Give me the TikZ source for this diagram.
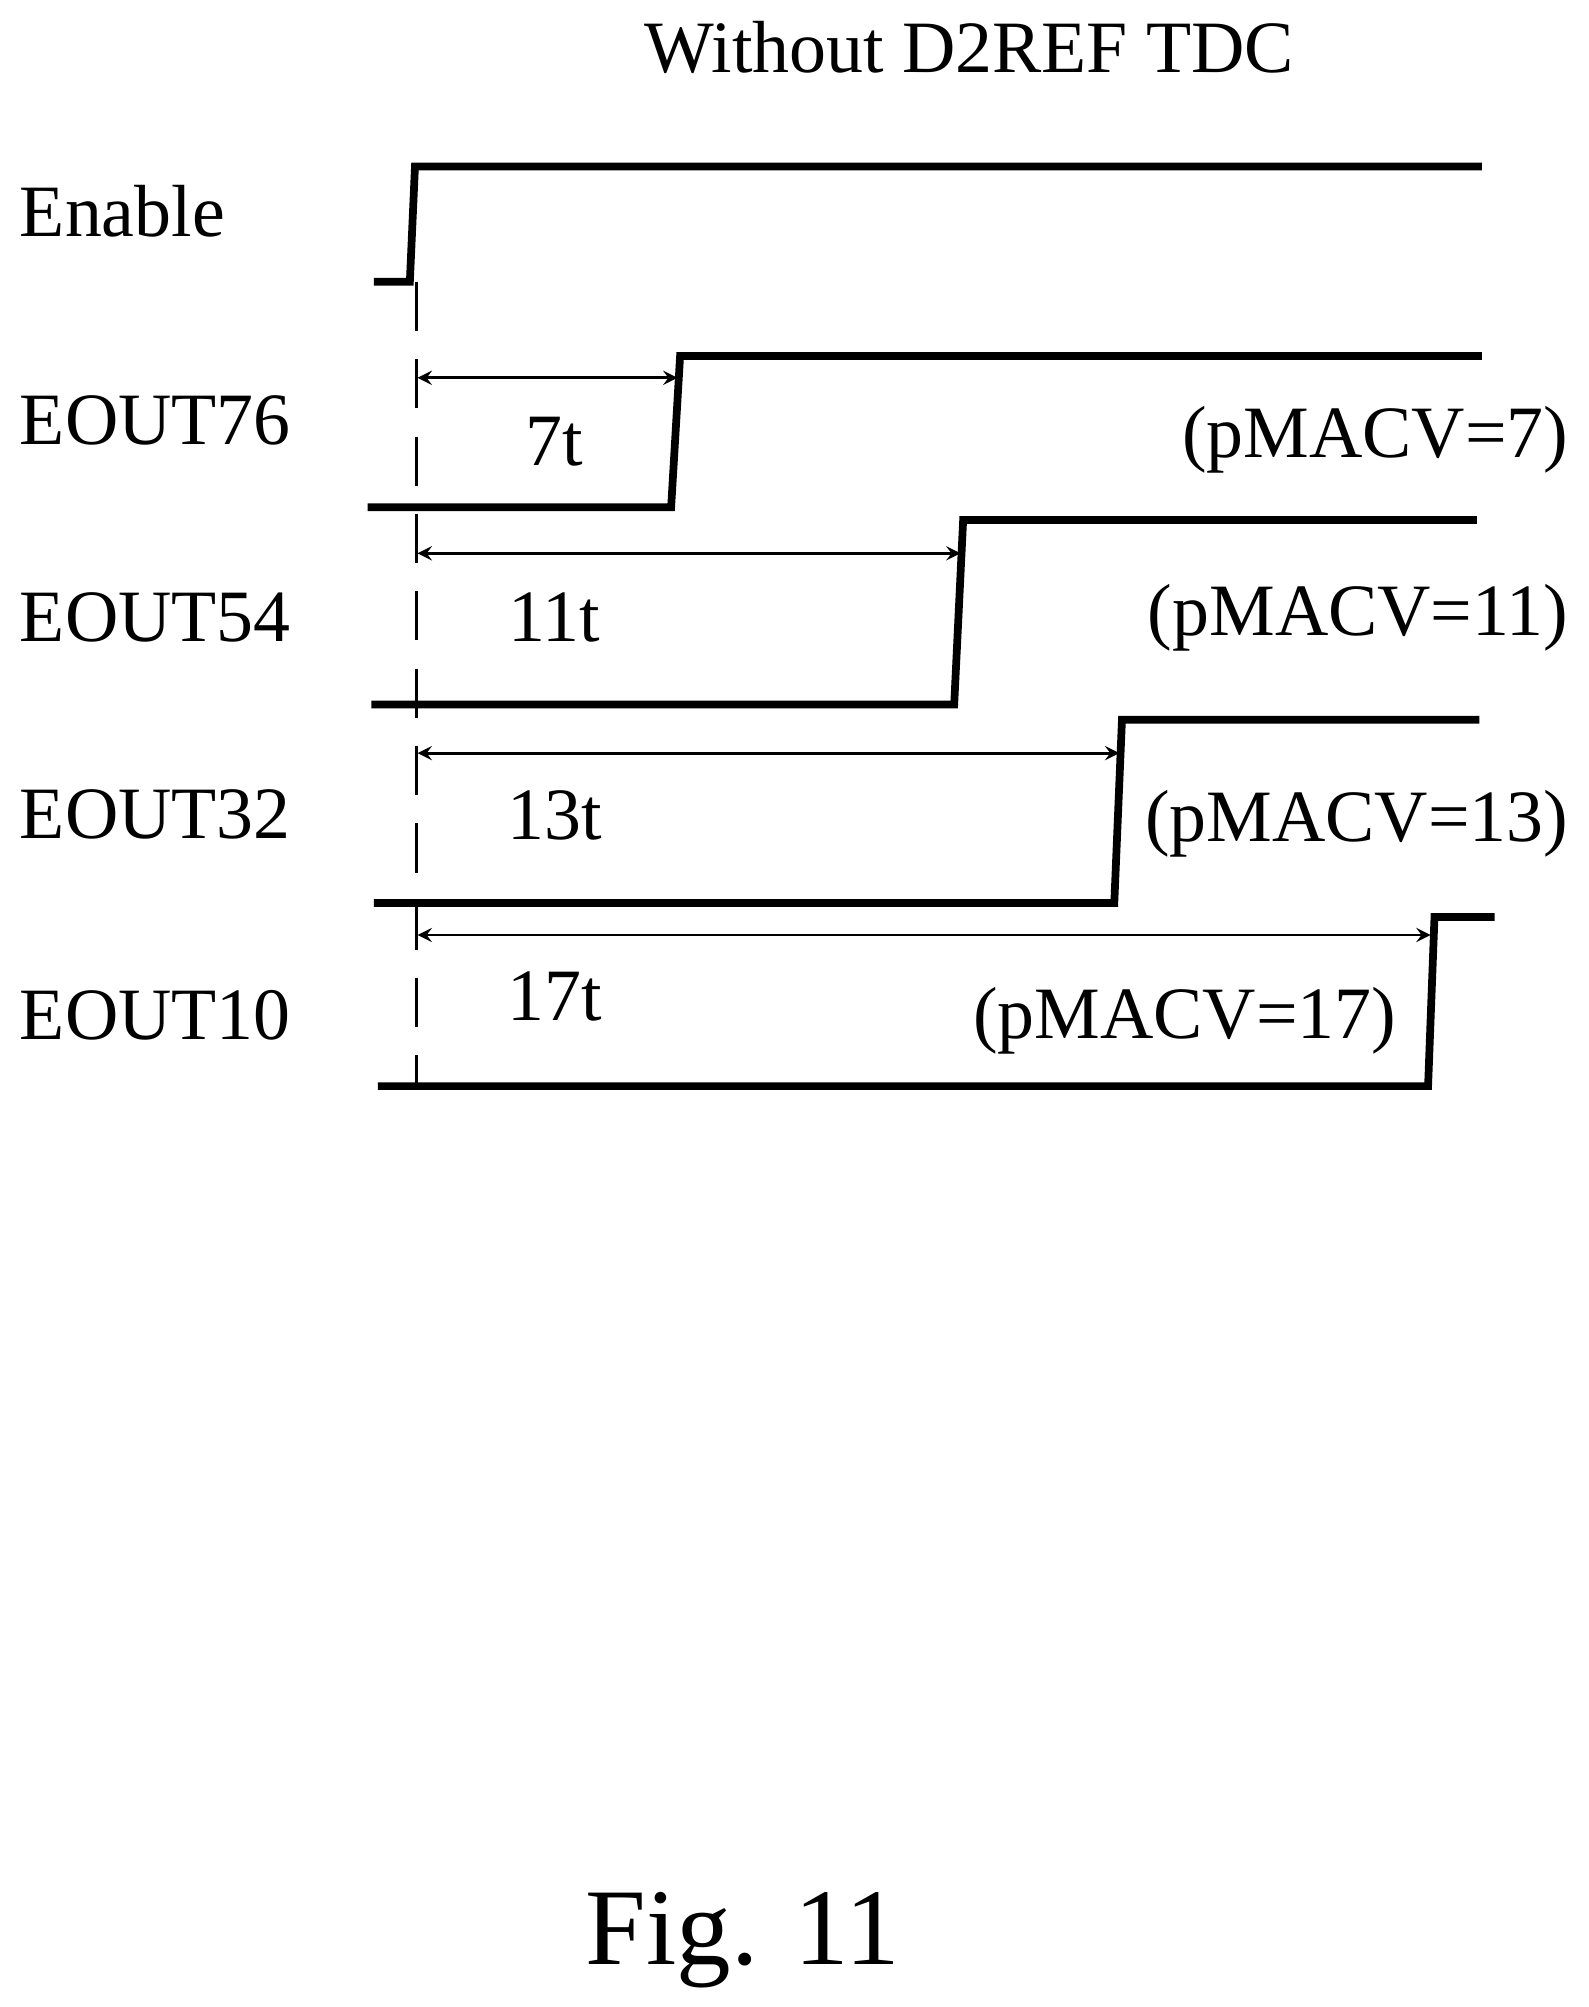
\documentclass[tikz,border=0pt]{standalone}
\usepackage{fontspec}
\setmainfont{Liberation Serif}
\usetikzlibrary{arrows}
\begin{document}
\begin{tikzpicture}[
        x=0.0128cm,y=-0.0128cm,
        lbl/.style={font=\fontsize{21}{24}\selectfont, inner sep=0pt},
        sig/.style={line width=2.2pt},
        dim/.style={thin,<->,>=stealth, line width=0.8pt},
    ]
    \useasboundingbox (0,0) rectangle (1240,1567);
    \node[lbl] (title) at (757,37) {Without D2REF TDC};
    \node[lbl,anchor=west] (en) at (15,165) {Enable};
    \node[lbl,anchor=west] (e76) at (15,328) {EOUT76};
    \node[lbl,anchor=west] (e54) at (15,482) {EOUT54};
    \node[lbl,anchor=west] (e32) at (15,636) {EOUT32};
    \node[lbl,anchor=west] (e10) at (15,793) {EOUT10};
    % signals
    \draw[sig] (292,220) -- (320,220) -- (324,130) -- (1157,130);
    \draw[sig] (287,396) -- (524,396) -- (531,278) -- (1157,278);
    \draw[sig] (290,550) -- (745,550) -- (752,406) -- (1153,406);
    \draw[sig] (292,705) -- (870,705) -- (876,562) -- (1155,562);
    \draw[sig] (295,848) -- (1115,848) -- (1120,716) -- (1167,716);
    \draw[dashed, line width=1pt, dash pattern=on 14pt off 8pt] (325,220) -- (325,848);
    % intervals
    \draw[dim] (326,295) -- (529,295);
    \draw[dim] (326,432) -- (750,432);
    \draw[dim] (326,588) -- (874,588);
    \draw[dim] (326,730) -- (1117,730);
    \node[lbl] (t7) at (433,345) {7t};
    \node[lbl] (t11) at (433,482) {11t};
    \node[lbl] (t13) at (433,637) {13t};
    \node[lbl] (t17) at (433,778) {17t};
    \node[lbl,anchor=east] (p7) at (1225,343) {(pMACV=7)};
    \node[lbl,anchor=east] (p11) at (1225,482) {(pMACV=11)};
    \node[lbl,anchor=east] (p13) at (1225,643) {(pMACV=13)};
    \node[lbl] (p17) at (925,797) {(pMACV=17)};
    \node[font=\fontsize{31}{36}\selectfont, inner sep=0pt] (fig) at (580,1515) {Fig. 11};
\end{tikzpicture}
\end{document}
